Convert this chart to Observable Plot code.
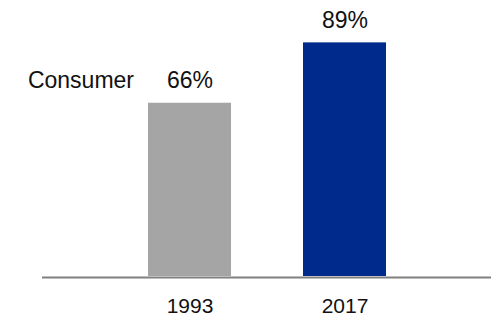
<!DOCTYPE html>
<html><head><meta charset="utf-8">
<script src="https://cdn.jsdelivr.net/npm/d3@7"></script>
<script src="https://cdn.jsdelivr.net/npm/@observablehq/plot@0.6"></script>
<style>body{margin:0;background:#fff;font-family:"Liberation Sans",Arial,sans-serif;}</style>
</head><body><div id="chart"></div>
<script>
const years = ["1993", "2017"];
const values = [66, 89];
const colors = ["#A5A5A5", "#002A8C"];
const seriesLabel = "Consumer";
const data = years.map((y, i) => ({year: y, value: values[i], color: colors[i]}));

const chart = Plot.plot({
  width: 491, height: 321,
  marginLeft: 42, marginRight: 0, marginTop: 13.5, marginBottom: 45,
  style: {fontFamily: '"Liberation Sans", Arial, sans-serif', color: "#000", background: "#fff"},
  x: {domain: years, range: [111, 423], paddingInner: 0.4615, paddingOuter: 0.2308, label: null},
  y: {domain: [0, 100], axis: null},
  marks: [
    Plot.barY(data, {x: "year", y: "value", fill: "color"}),
    Plot.ruleY([0], {stroke: "#808080", strokeWidth: 2, dy: 1}),
    Plot.axisX({tickSize: 0, tickPadding: 22, fontSize: 21, fill: "#111", label: null}),
    Plot.text(data, {x: "year", y: "value", text: d => d.value + "%", fontSize: 23, fill: "#111", lineAnchor: "bottom", dy: -15}),
    Plot.text([data[0]], {x: "year", y: "value", text: () => seriesLabel, fontSize: 23, fill: "#111", lineAnchor: "bottom", textAnchor: "end", dx: -56, dy: -15})
  ]
});
document.getElementById("chart").appendChild(chart);
</script></body></html>
